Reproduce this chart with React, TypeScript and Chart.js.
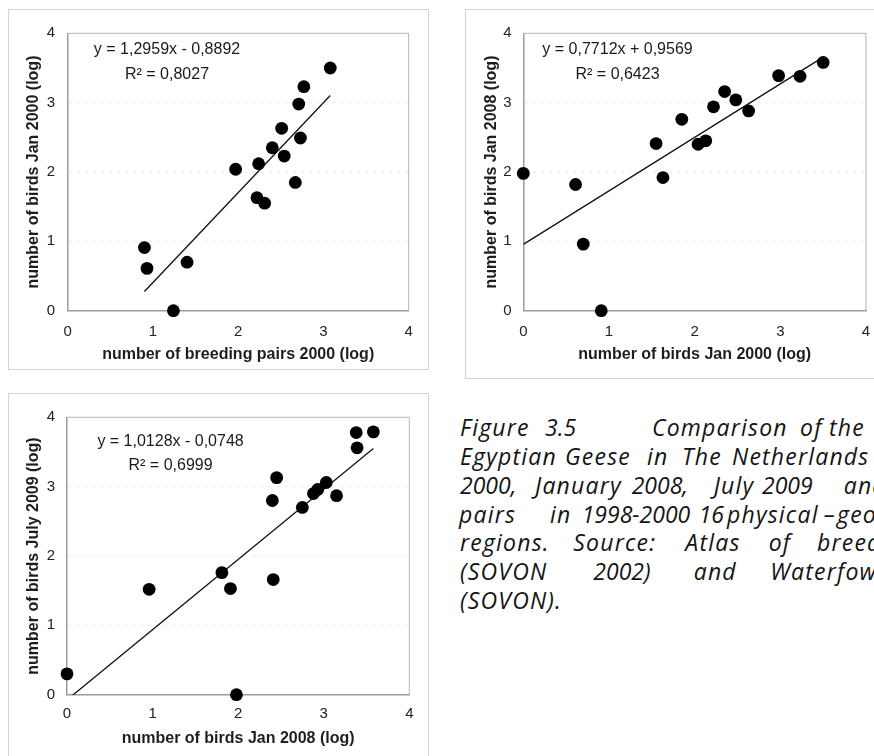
import { useEffect, useRef } from "react";
import { Chart, registerables } from "chart.js";

Chart.register(...registerables);

// ---------- data (log values) ----------
// Panel A: breeding pairs 2000 vs birds January 2000
const pairs2000 = [0.90, 0.93, 1.24, 1.40, 1.97, 2.24, 2.22, 2.31, 2.40, 2.51, 2.54, 2.67, 2.71, 2.73, 2.77, 3.08];
const birdsJan2000A = [0.91, 0.61, 0.00, 0.70, 2.04, 2.12, 1.63, 1.55, 2.35, 2.63, 2.23, 1.85, 2.98, 2.49, 3.23, 3.50];
// Panel B: birds January 2000 vs birds January 2008
const birdsJan2000B = [0.00, 0.61, 0.70, 0.91, 1.55, 1.63, 1.85, 2.04, 2.13, 2.22, 2.35, 2.48, 2.63, 2.98, 3.23, 3.50];
const birdsJan2008B = [1.98, 1.82, 0.96, 0.00, 2.41, 1.92, 2.76, 2.40, 2.45, 2.94, 3.16, 3.04, 2.88, 3.39, 3.38, 3.58];
// Panel C: birds January 2008 vs birds July 2009
const birdsJan2008C = [0.00, 0.96, 1.81, 1.91, 1.98, 2.40, 2.41, 2.45, 2.75, 2.88, 2.93, 3.03, 3.15, 3.38, 3.39, 3.58];
const birdsJul2009C = [0.30, 1.52, 1.76, 1.53, 0.00, 2.80, 1.66, 3.13, 2.70, 2.90, 2.96, 3.06, 2.87, 3.78, 3.56, 3.79];

// trend line coefficients (as printed)
const slopes = [1.2959, 0.7712, 1.0128];
const intercepts = [-0.8892, 0.9569, -0.0748];
const equations = ["y = 1,2959x - 0,8892", "y = 0,7712x + 0,9569", "y = 1,0128x - 0,0748"];
const rSquared = ["R² = 0,8027", "R² = 0,6423", "R² = 0,6999"];

const axisTicks = [0, 1, 2, 3, 4];
const xTitles = ["number of breeding pairs 2000 (log)", "number of birds Jan 2000 (log)", "number of birds Jan 2008 (log)"];
const yTitles = ["number of birds Jan 2000 (log)", "number of birds Jan 2008 (log)", "number of birds July 2009 (log)"];

// caption
const captionWords = [
  ["Figure", "3.5", "Comparison", "of", "the", "number"],
  ["Egyptian", "Geese", "in", "The", "Netherlands"],
  ["2000,", "January", "2008,", "July", "2009", "and"],
  ["pairs", "in", "1998-2000", "16", "physical", "–", "geographical"],
  ["regions.", "Source:", "Atlas", "of", "breeding"],
  ["(SOVON", "2002)", "and", "Waterfowl"],
  ["(SOVON)."],
];
const captionLefts = [
  [460, 545, 652, 800, 829, 884],
  [460, 565, 647, 682, 732],
  [460, 535, 631.7, 713.7, 762, 843.7],
  [459, 550, 581.7, 698.7, 727, 823.7, 837],
  [460, 573.3, 685.3, 768.7, 817],
  [460, 593.3, 693.7, 770.3],
  [460],
];

const FONT = '"Liberation Sans", Arial, sans-serif';

type Panel = {
  xs: number[];
  ys: number[];
  idx: number;
  canvas: { left: number; top: number; w: number; h: number };
  pad: { top: number; right: number };
  yWidth: number;
  xHeight: number;
  yTickPad: number;
  xTickPad: number;
  yTitlePad: number;
  xTitlePad: number;
  eq: { x: number; y: number; ry: number };
};

const panels: Panel[] = [
  {
    xs: pairs2000, ys: birdsJan2000A, idx: 0,
    canvas: { left: 9, top: 10, w: 419, h: 359 },
    pad: { top: 23.3, right: 19.3 }, yWidth: 58.7, xHeight: 58.3,
    yTickPad: 12.7, xTickPad: 12, yTitlePad: 14.7, xTitlePad: 5.1,
    eq: { x: 1.165, y: 3.76, ry: 3.40 },
  },
  {
    xs: birdsJan2000B, ys: birdsJan2008B, idx: 1,
    canvas: { left: 466, top: 10, w: 420, h: 368 },
    pad: { top: 23.3, right: 20 }, yWidth: 57.3, xHeight: 67.3,
    yTickPad: 11.6, xTickPad: 12, yTitlePad: 16.1, xTitlePad: 14.1,
    eq: { x: 1.10, y: 3.76, ry: 3.40 },
  },
  {
    xs: birdsJan2008C, ys: birdsJul2009C, idx: 2,
    canvas: { left: 9, top: 394, w: 419, h: 362 },
    pad: { top: 23.3, right: 18.7 }, yWidth: 58, xHeight: 61.3,
    yTickPad: 12, xTickPad: 10.3, yTitlePad: 14.7, xTitlePad: 7.4,
    eq: { x: 1.21, y: 3.65, ry: 3.30 },
  },
];

function ScatterPanel({ p }: { p: Panel }) {
  const ref = useRef<HTMLCanvasElement | null>(null);
  useEffect(() => {
    if (!ref.current) return;
    const points = p.xs.map((x, i) => ({ x, y: p.ys[i] }));
    const xMin = Math.min(...p.xs);
    const xMax = Math.max(...p.xs);
    const m = slopes[p.idx];
    const b = intercepts[p.idx];
    const trend = [
      { x: xMin, y: m * xMin + b },
      { x: xMax, y: m * xMax + b },
    ];
    const framePlugin = {
      id: "frame" + p.idx,
      beforeDatasetsDraw(chart: any) {
        const { ctx, chartArea: a } = chart;
        ctx.save();
        ctx.strokeStyle = "#b4b4b4";
        ctx.lineWidth = 1;
        ctx.beginPath();
        ctx.moveTo(a.left, a.top);
        ctx.lineTo(a.right, a.top);
        ctx.lineTo(a.right, a.bottom);
        ctx.stroke();
        ctx.restore();
      },
      afterDraw(chart: any) {
        const { ctx, scales } = chart;
        const cx = scales.x.getPixelForValue(p.eq.x);
        ctx.save();
        ctx.font = "16px " + FONT;
        ctx.fillStyle = "#1a1a1a";
        ctx.textAlign = "center";
        ctx.textBaseline = "middle";
        ctx.fillText(equations[p.idx], cx, scales.y.getPixelForValue(p.eq.y));
        ctx.fillText(rSquared[p.idx], cx, scales.y.getPixelForValue(p.eq.ry));
        ctx.restore();
      },
    };
    const chart = new Chart(ref.current, {
      type: "scatter",
      data: {
        datasets: [
          {
            type: "line",
            data: trend,
            borderColor: "#111",
            borderWidth: 1.3,
            pointRadius: 0,
            fill: false,
            order: 2,
          } as any,
          {
            data: points,
            backgroundColor: "#000",
            borderColor: "#000",
            borderWidth: 0,
            pointRadius: 6.4,
            clip: false,
            order: 1,
          } as any,
        ],
      },
      options: {
        animation: false,
        responsive: false,
        devicePixelRatio: 1,
        events: [],
        layout: { padding: { top: p.pad.top, right: p.pad.right, left: 0, bottom: 0 } },
        plugins: { legend: { display: false }, tooltip: { enabled: false } },
        scales: {
          x: {
            type: "linear",
            min: 0,
            max: 4,
            afterBuildTicks: (s: any) => {
              s.ticks = axisTicks.map((v) => ({ value: v }));
            },
            afterFit: (s: any) => {
              s.height = p.xHeight;
            },
            ticks: { font: { size: 15, family: FONT }, color: "#222", padding: p.xTickPad },
            grid: { display: false, drawTicks: false },
            border: { display: true, color: "#9c9c9c", width: 1.5 },
            title: {
              display: true,
              text: xTitles[p.idx],
              font: { size: 16, weight: "bold", family: FONT },
              color: "#1e1e1e",
              padding: { top: 0, bottom: p.xTitlePad },
            },
          },
          y: {
            type: "linear",
            min: 0,
            max: 4,
            afterBuildTicks: (s: any) => {
              s.ticks = axisTicks.map((v) => ({ value: v }));
            },
            afterFit: (s: any) => {
              s.width = p.yWidth;
            },
            ticks: { font: { size: 15, family: FONT }, color: "#222", padding: p.yTickPad },
            grid: {
              display: true,
              drawTicks: false,
              color: (c: any) => (c.tick && c.tick.value > 0 && c.tick.value < 4 ? "#ececec" : "rgba(0,0,0,0)"),
              lineWidth: 1,
            },
            border: { display: true, color: "#9c9c9c", width: 1.5, dash: [4, 4] },
            title: {
              display: true,
              text: yTitles[p.idx],
              font: { size: 16, weight: "bold", family: FONT },
              color: "#1e1e1e",
              padding: { top: p.yTitlePad, bottom: 0 },
            },
          },
        },
      } as any,
      plugins: [framePlugin],
    });
    return () => chart.destroy();
  }, [p]);
  return (
    <canvas
      ref={ref}
      width={p.canvas.w}
      height={p.canvas.h}
      style={{ position: "absolute", left: p.canvas.left, top: p.canvas.top, width: p.canvas.w, height: p.canvas.h }}
    />
  );
}

const frames = [
  { left: 8, top: 9, w: 421, h: 361 },
  { left: 465, top: 9, w: 440, h: 370 },
  { left: 8, top: 393, w: 421, h: 380 },
];

export default function App() {
  return (
    <div
      style={{
        position: "absolute",
        left: 0,
        top: 0,
        width: 874,
        height: 756,
        overflow: "hidden",
        background: "#fff",
      }}
    >
      {frames.map((f, i) => (
        <div
          key={"f" + i}
          style={{
            position: "absolute",
            left: f.left,
            top: f.top,
            width: f.w,
            height: f.h,
            boxSizing: "border-box",
            border: "1px solid #d2d2d2",
          }}
        />
      ))}
      {panels.map((p) => (
        <ScatterPanel key={p.idx} p={p} />
      ))}
      {captionWords.map((line, li) =>
        line.map((w, wi) => (
          <span
            key={li + "-" + wi}
            style={{
              position: "absolute",
              left: captionLefts[li][wi],
              top: 413.4 + li * 28.7,
              fontFamily: '"Open Sans", "Noto Sans", sans-serif',
              fontStyle: "italic",
              fontSize: 23,
              letterSpacing: /[A-Za-z]/.test(w) ? "1.2px" : "0px",
              lineHeight: "28.7px",
              color: "#141414",
              whiteSpace: "pre",
            }}
          >
            {w}
          </span>
        ))
      )}
    </div>
  );
}
